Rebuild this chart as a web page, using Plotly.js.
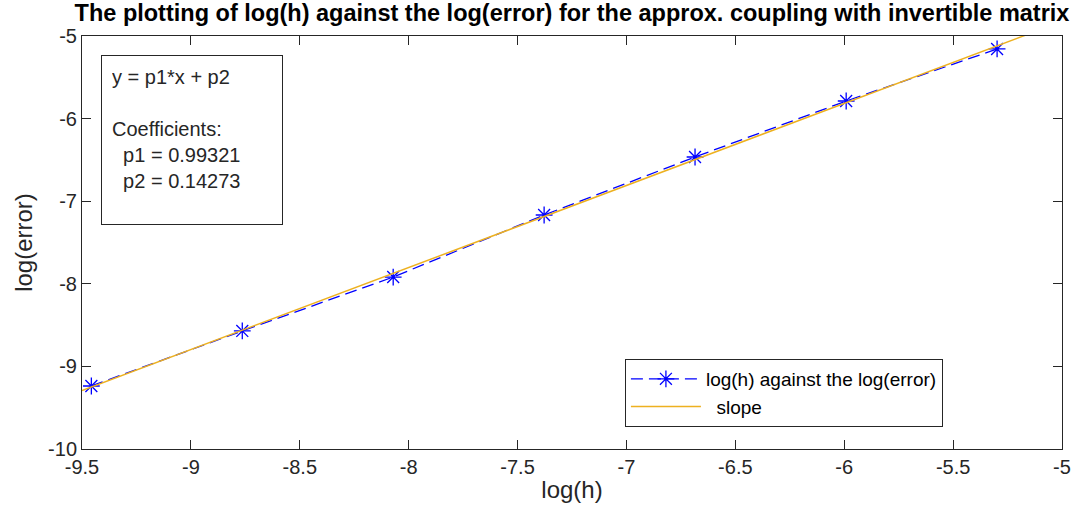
<!DOCTYPE html>
<html>
<head>
<meta charset="utf-8">
<script src="https://cdn.plot.ly/plotly-3.0.1.min.js"></script>
<style>html,body{margin:0;padding:0;background:#fff;}#chart{width:1089px;height:520px;}</style>
</head>
<body>
<div id="chart"></div>
<script>
const logH = [-9.457, -8.764, -8.071, -7.378, -6.685, -5.991, -5.298];
const logErr = [-9.237, -8.571, -7.918, -7.167, -6.465, -5.787, -5.157];
const p1 = 0.99321;
const p2 = 0.14273;
const slopeX = [-9.5, -5.0];
const slopeY = slopeX.map(x => p1 * x + p2);
const xTicks = [-9.5, -9, -8.5, -8, -7.5, -7, -6.5, -6, -5.5, -5];
const yTicks = [-10, -9, -8, -7, -6, -5];

const FONT = 'Liberation Sans, Arial, sans-serif';
const traces = [
  {
    x: logH, y: logErr, type: 'scatter', mode: 'lines+markers',
    name: 'log(h) against the log(error)',
    line: {color: '#0000ff', width: 1.3, dash: '12px,6px'},
    marker: {symbol: 'asterisk-open', size: 14, color: '#0000ff', line: {color: '#0000ff', width: 1.3}}
  },
  {
    x: slopeX, y: slopeY, type: 'scatter', mode: 'lines',
    name: '\u00a0\u00a0slope',
    line: {color: '#EDB120', width: 1.5}
  }
];
const axisCommon = {
  showgrid: false, zeroline: false, showline: true, mirror: 'allticks',
  linecolor: '#262626', linewidth: 1, ticks: 'inside', ticklen: 9, tickcolor: '#262626',
  tickfont: {family: FONT, size: 20, color: '#262626'}
};
const layout = {
  width: 1089, height: 520,
  margin: {l: 82, r: 27, t: 36, b: 71},
  paper_bgcolor: '#fff', plot_bgcolor: '#fff',
  title: {text: '<b>The plotting of log(h) against the log(error) for the approx. coupling with invertible matrix</b>',
    font: {family: FONT, size: 23.5, color: '#000'}, x: 0.5, xref: 'paper', xanchor: 'center', y: 1 - 13/520, yanchor: 'middle'},
  xaxis: Object.assign({}, axisCommon, {range: [-9.5, -5], tickvals: xTicks, ticktext: xTicks.map(String),
    title: {text: 'log(h)', font: {family: FONT, size: 24, color: '#262626'}, standoff: 4}}),
  yaxis: Object.assign({}, axisCommon, {range: [-10, -5], tickvals: yTicks, ticktext: yTicks.map(String),
    title: {text: 'log(error)', font: {family: FONT, size: 24, color: '#262626'}, standoff: 8}}),
  showlegend: true,
  legend: {x: 0.554, y: 0.218, xanchor: 'left', yanchor: 'top', bgcolor: '#fff',
    bordercolor: '#262626', borderwidth: 1, font: {family: FONT, size: 19, color: '#000'},
    tracegroupgap: 0, itemwidth: 70},
  annotations: [{
    xref: 'paper', yref: 'paper', x: 19/980, y: (449-55)/413, xanchor: 'left', yanchor: 'top',
    text: 'y = p1*x + p2<br><br>Coefficients:<br>\u00a0\u00a0p1 = 0.99321<br>\u00a0\u00a0p2 = 0.14273',
    showarrow: false, align: 'left', valign: 'top', bgcolor: '#fff',
    bordercolor: '#262626', borderwidth: 1, borderpad: 10, width: 160, height: 148,
    font: {family: FONT, size: 20, color: '#262626'}
  }]
};
Plotly.newPlot('chart', traces, layout, {displayModeBar: false, staticPlot: true});
</script>
</body>
</html>
